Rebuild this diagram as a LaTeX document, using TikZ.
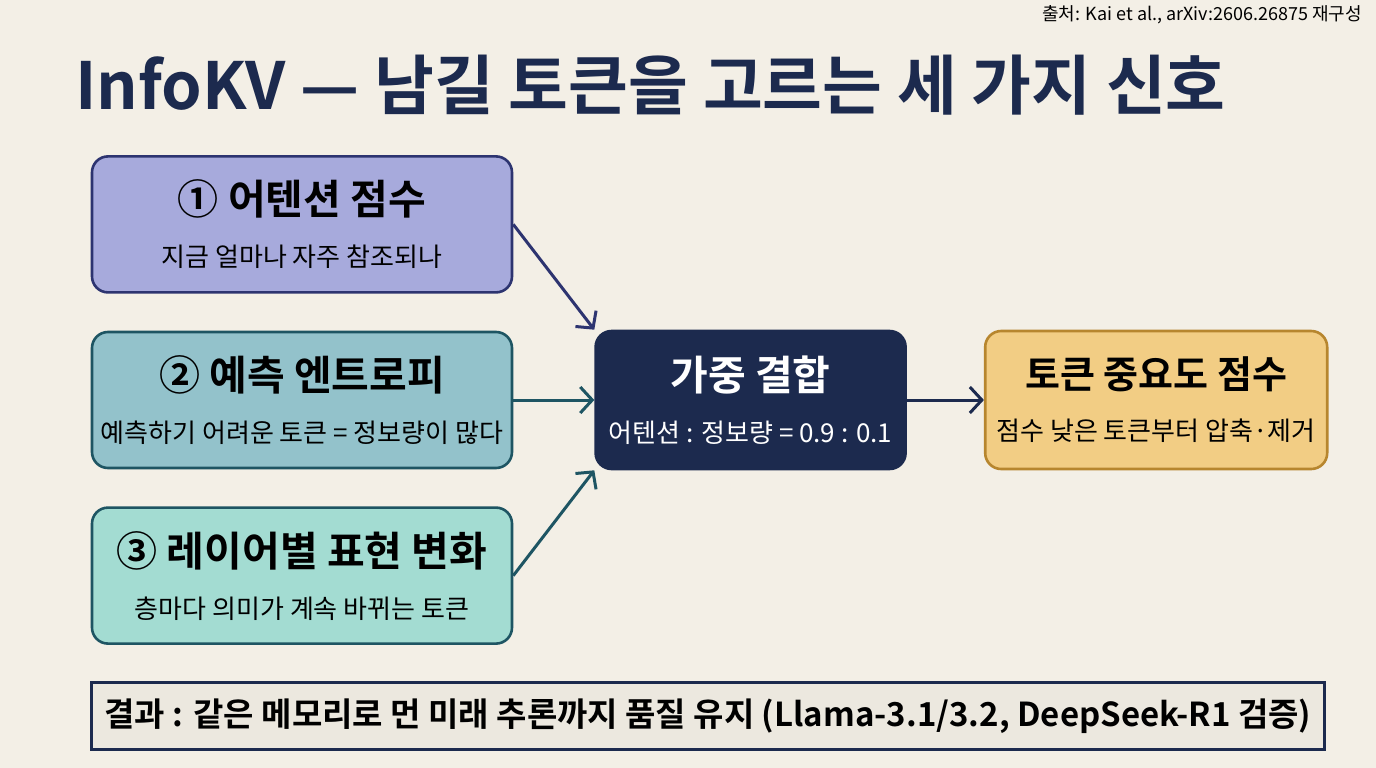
\documentclass[tikz,border=0pt]{standalone}
\usepackage{fontspec}
\setmainfont{Noto Sans CJK KR}[BoldFont={Noto Sans CJK KR Bold}]
\usetikzlibrary{positioning,arrows.meta}
\definecolor{paper}{HTML}{F3EFE6}
\definecolor{navy}{HTML}{1C2A4E}
\definecolor{ink}{HTML}{2D3470}
\definecolor{teal}{HTML}{1E5563}
\definecolor{lav}{HTML}{A7AADC}
\definecolor{sea}{HTML}{93C2CB}
\definecolor{mint}{HTML}{A3DCD2}
\definecolor{amber}{HTML}{F2CD84}
\definecolor{ochre}{HTML}{B7862E}
\tikzset{sig/.style={draw,rounded corners=16pt,line width=2.6pt,minimum width=420pt,minimum height=136pt,
		inner sep=0pt,align=center,font=\fontsize{26}{52}\selectfont},
	 mix/.style={sig,minimum width=310pt,minimum height=138pt,fill=navy,draw=navy,text=white},
	 flow/.style={line width=3pt,-{Straight Barb[length=12pt,width=26pt,line width=3pt]}},
	 node distance = 37pt
	 }
\newcommand{\hd}[1]{{\fontsize{41}{52}\selectfont\bfseries #1}}

\begin{document}
\begin{tikzpicture}[x=1pt,y=-1pt] % pixel grid, y down
	\useasboundingbox[fill=paper] (0,0) rectangle (1376,768);
	\node[anchor=east,inner sep=0pt,font=\fontsize{18}{20}\selectfont] (src) at (1362,15) {출처: Kai et al., arXiv:2606.26875 재구성};
	\node[anchor=west,inner sep=0pt,text=navy,font=\fontsize{65}{72}\selectfont\bfseries] (title) at (75,85) {InfoKV — 남길 토큰을 고르는 세 가지 신호};
	\node[sig,fill=sea,draw=teal] (s2) at (302,400) {\hd{② 예측 엔트로피}\\예측하기 어려운 토큰 = 정보량이 많다};
	\node[sig,fill=lav,draw=ink] (s1) [above=of s2] {\hd{① 어텐션 점수}\\지금 얼마나 자주 참조되나};
	\node[sig,fill=mint,draw=teal] (s3) [below=of s2] {\hd{③ 레이어별 표현 변화}\\층마다 의미가 계속 바뀌는 토큰};
	\node[mix] (comb) [right=81pt of s2] {\hd{가중 결합}\\어텐션 : 정보량 = 0.9 : 0.1};
	\node[sig,minimum width=342pt,minimum height=138pt,fill=amber,draw=ochre] (score) [right=77pt of comb] {{\fontsize{38}{52}\selectfont\bfseries 토큰 중요도 점수}\\점수 낮은 토큰부터 압축·제거};
	\node[draw=navy,line width=2.6pt,fill=paper!97!black,minimum width=1233pt,minimum height=67pt,inner sep=0pt,
		font=\fontsize{33}{38}\selectfont\bfseries] (res) at (708,716) {결과 : 같은 메모리로 먼 미래 추론까지 품질 유지 (Llama-3.1/3.2, DeepSeek-R1 검증)};
	\draw[flow,ink] (s1.east) to (comb.north west);
	\draw[flow,teal] (s2.east) to (comb.west);
	\draw[flow,teal] (s3.east) to (comb.south west);
	\draw[flow,navy] (comb.east) to (score.west);
\end{tikzpicture}
\end{document}
